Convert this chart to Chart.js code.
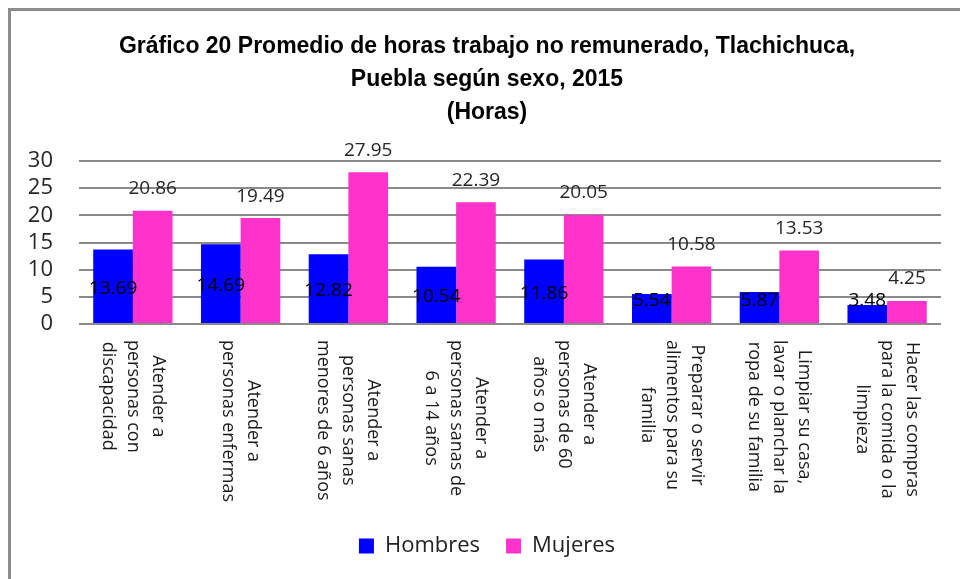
<!DOCTYPE html>
<html>
<head>
<meta charset="utf-8">
<script src="https://cdn.jsdelivr.net/npm/chart.js@4"></script>
<style>
html,body{margin:0;padding:0;background:#fff;}
canvas{display:block;}
</style>
</head>
<body>
<canvas id="c" width="960" height="579"></canvas>
<script>
const categories = [
  ["Atender a","personas con","discapacidad"],
  ["Atender a","personas enfermas"],
  ["Atender a","personas sanas","menores de 6 años"],
  ["Atender a","personas sanas de","6 a 14 años"],
  ["Atender a","personas de 60","años o más"],
  ["Preparar o servir","alimentos para su","familia"],
  ["Limpiar su casa,","lavar o planchar la","ropa de su familia"],
  ["Hacer las compras","para la comida o la","limpieza"]
];
const hombres = [13.69, 14.69, 12.82, 10.54, 11.86, 5.54, 5.87, 3.48];
const mujeres = [20.86, 19.49, 27.95, 22.39, 20.05, 10.58, 13.53, 4.25];
const yTicks = [0, 5, 10, 15, 20, 25, 30];
const titleLines = [
  "Gráfico 20 Promedio de horas trabajo no remunerado, Tlachichuca,",
  "Puebla según sexo, 2015",
  "(Horas)"
];

const FONT = '"Open Sans", "Noto Sans", sans-serif';

const customDraw = {
  id: 'customDraw',
  beforeDraw(chart) {
    const ctx = chart.ctx;
    ctx.save();
    ctx.strokeStyle = '#8c8c8c';
    ctx.lineWidth = 3;
    ctx.beginPath();
    ctx.moveTo(9.5, chart.height);
    ctx.lineTo(9.5, 9.5);
    ctx.lineTo(chart.width, 9.5);
    ctx.stroke();
    ctx.restore();
  },
  afterDatasetsDraw(chart) {
    const ctx = chart.ctx;
    ctx.save();
    ctx.font = '19px ' + FONT;
    ctx.textAlign = 'center';
    ctx.textBaseline = 'middle';
    chart.data.datasets.forEach((ds, di) => {
      const meta = chart.getDatasetMeta(di);
      meta.data.forEach((el, i) => {
        const v = ds.data[i];
        let y;
        if (di === 1) {
          y = el.y - 22;
          ctx.fillStyle = '#262626';
        } else {
          y = Math.min((el.y + el.base) / 2 + 2, el.base - 22);
          ctx.fillStyle = '#000';
        }
        ctx.fillText(v.toFixed(2), el.x, y);
      });
    });
    ctx.restore();
  },
  afterDraw(chart) {
    const ctx = chart.ctx;
    const xs = chart.scales.x;
    const top = chart.chartArea.bottom + 16;
    ctx.save();
    ctx.font = '18px ' + FONT;
    ctx.fillStyle = '#1a1a1a';
    ctx.textAlign = 'center';
    ctx.textBaseline = 'middle';
    categories.forEach((lines, i) => {
      const cx = xs.getPixelForValue(i);
      let maxW = 0;
      lines.forEach(l => { maxW = Math.max(maxW, ctx.measureText(l).width); });
      ctx.save();
      ctx.translate(cx, top);
      ctx.rotate(Math.PI / 2);
      const n = lines.length;
      lines.forEach((l, j) => {
        ctx.fillText(l, maxW / 2, (j - (n - 1) / 2) * 25);
      });
      ctx.restore();
    });
    ctx.restore();
  }
};

new Chart(document.getElementById('c'), {
  type: 'bar',
  data: {
    labels: categories,
    datasets: [
      { label: 'Hombres', data: hombres, backgroundColor: '#0000ff', borderWidth: 0 },
      { label: 'Mujeres', data: mujeres, backgroundColor: '#ff33cc', borderWidth: 0 }
    ]
  },
  options: {
    responsive: false,
    animation: false,
    devicePixelRatio: 1,
    layout: { padding: { top: 14, left: 14, right: 0, bottom: 12 } },
    datasets: { bar: { categoryPercentage: 0.736, barPercentage: 1.0 } },
    scales: {
      x: {
        ticks: { display: false },
        grid: { display: false },
        border: { display: false },
        afterFit(scale) { scale.height = 185; }
      },
      y: {
        min: 0, max: 30,
        afterBuildTicks(scale) { scale.ticks = yTicks.map(v => ({ value: v })); },
        ticks: {
          autoSkip: false,
          stepSize: 5,
          padding: 26,
          color: '#262626',
          font: { family: FONT, size: 22 }
        },
        grid: { color: '#8a8a8a', lineWidth: 2, drawTicks: false },
        border: { display: false },
        afterFit(scale) { scale.width = 65; }
      },
      y2: {
        position: 'right',
        min: 0, max: 30,
        ticks: { display: false },
        grid: { display: false },
        border: { display: false },
        afterFit(scale) { scale.width = 19; }
      }
    },
    plugins: {
      title: {
        display: true,
        text: titleLines,
        color: '#000',
        font: { family: '"Liberation Sans", Arial, sans-serif', size: 23, weight: 'bold', lineHeight: 33 / 23 },
        padding: { top: 16.5, bottom: 31.5 }
      },
      legend: {
        position: 'bottom',
        labels: {
          boxWidth: 15,
          boxHeight: 15,
          padding: 26,
          color: '#222',
          font: { family: FONT, size: 22 }
        }
      },
      tooltip: { enabled: false }
    }
  },
  plugins: [customDraw]
});
</script>
</body>
</html>
